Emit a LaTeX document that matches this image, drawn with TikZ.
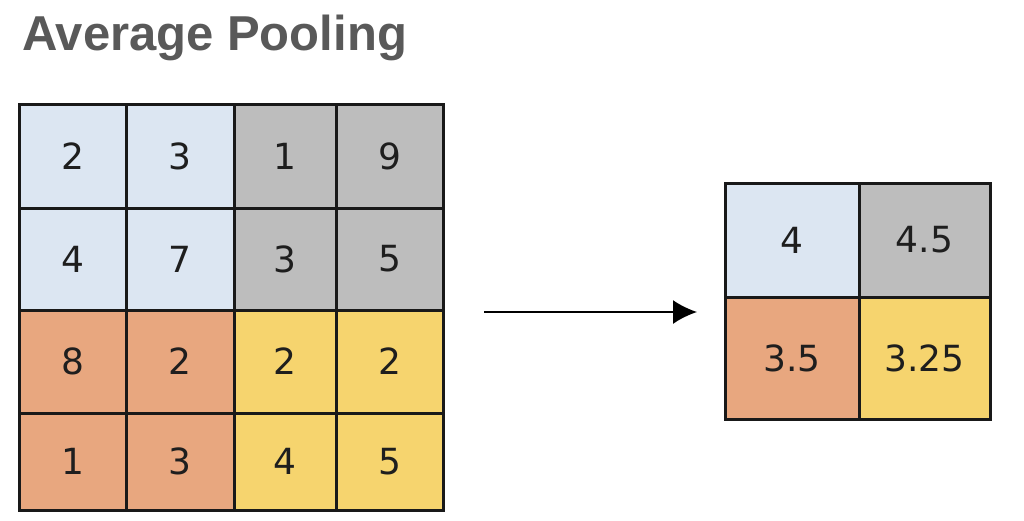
\documentclass[tikz,border=0pt]{standalone}
\usepackage{fontspec}
\setmainfont{DejaVu Sans}
\newfontfamily\titlefont{Liberation Sans}
\usetikzlibrary{arrows.meta}
\definecolor{cblue}{HTML}{DCE6F2}
\definecolor{cgray}{HTML}{BDBDBD}
\definecolor{corange}{HTML}{E8A77F}
\definecolor{cyellow}{HTML}{F6D46E}
\definecolor{ctitle}{HTML}{595959}
\definecolor{ctext}{HTML}{1E1E1E}
\begin{document}
\begin{tikzpicture}[x=1pt,y=-1pt,
  cell/.style={draw=black!90, line width=3pt, inner sep=0pt, text=ctext,
    font=\fontsize{36}{36}\selectfont},
  conn/.style={line width=2pt, -{Latex[length=24pt,width=24pt]}}]
\useasboundingbox (0,0) rectangle (1024,520);
\node[anchor=base west, text=ctitle, font=\titlefont\bfseries\fontsize{49}{49}\selectfont, inner sep=0pt] (title) at (22,50) {Average Pooling};
% left 4x4 grid
\def\cellL#1#2#3#4#5#6#7{\node[cell, fill=#7, minimum width=#4pt, minimum height=#5pt] (#6) at (#1,#2) {#3};}
\cellL{72.5}{156}{2}{107}{104}{l11}{cblue}
\cellL{180}{156}{3}{108}{104}{l12}{cblue}
\cellL{285}{156}{1}{102}{104}{l13}{cgray}
\cellL{389.5}{156}{9}{107}{104}{l14}{cgray}
\cellL{72.5}{259}{4}{107}{102}{l21}{cblue}
\cellL{180}{259}{7}{108}{102}{l22}{cblue}
\cellL{285}{259}{3}{102}{102}{l23}{cgray}
\cellL{389.5}{259}{5}{107}{102}{l24}{cgray}
\cellL{72.5}{361.5}{8}{107}{103}{l31}{corange}
\cellL{180}{361.5}{2}{108}{103}{l32}{corange}
\cellL{285}{361.5}{2}{102}{103}{l33}{cyellow}
\cellL{389.5}{361.5}{2}{107}{103}{l34}{cyellow}
\cellL{72.5}{461.5}{1}{107}{97}{l41}{corange}
\cellL{180}{461.5}{3}{108}{97}{l42}{corange}
\cellL{285}{461.5}{4}{102}{97}{l43}{cyellow}
\cellL{389.5}{461.5}{5}{107}{97}{l44}{cyellow}
% right 2x2 grid
\cellL{792}{240}{4}{134}{114}{r11}{cblue}
\cellL{924.5}{240}{4.5}{131}{114}{r12}{cgray}
\cellL{792}{358}{3.5}{134}{122}{r21}{corange}
\cellL{924.5}{358}{3.25}{131}{122}{r22}{cyellow}
% arrow
\coordinate (as) at (484,312);
\coordinate (ae) at (697,312);
\draw[conn] (as) -- (ae);
\end{tikzpicture}
\end{document}
